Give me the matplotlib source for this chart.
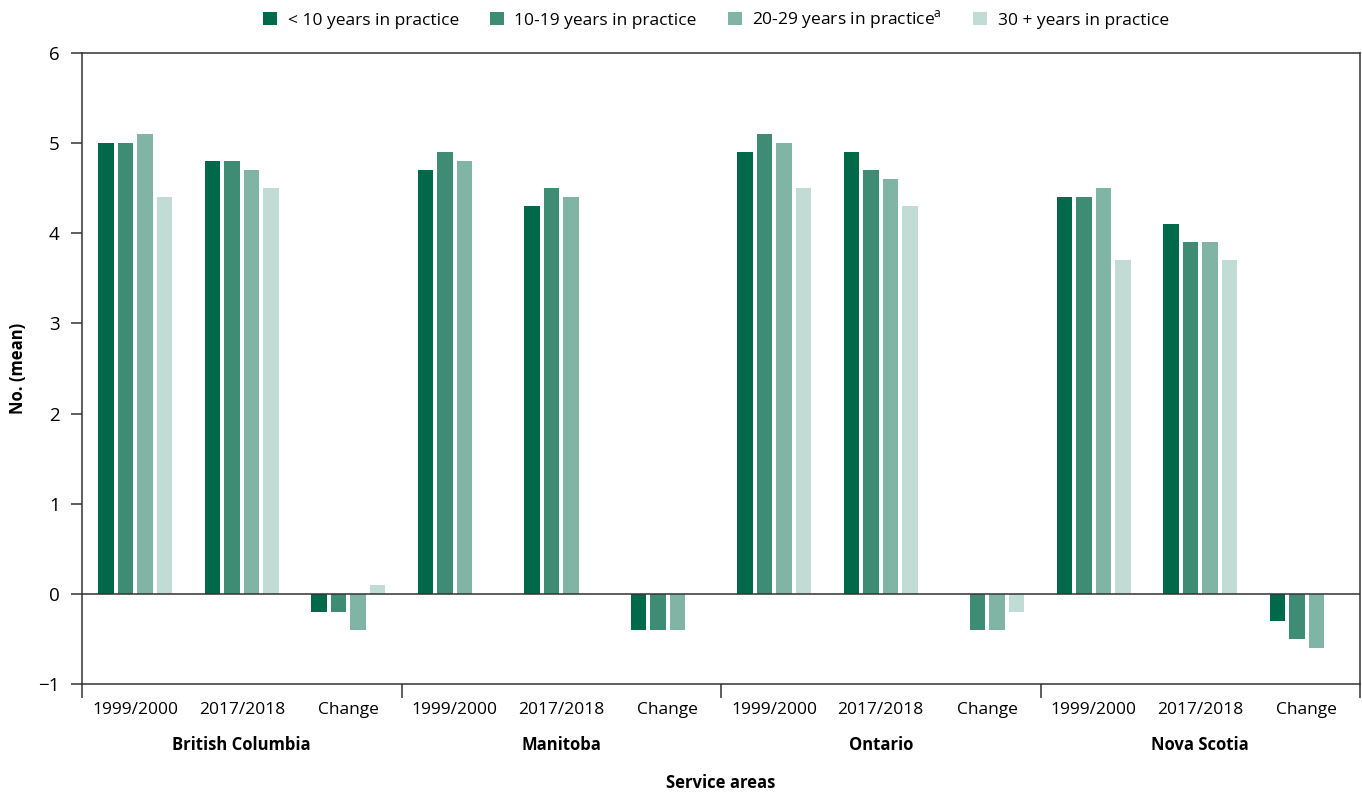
"""
Mean number of service areas by years in practice, four provinces.
"""
import numpy as np
import matplotlib
matplotlib.use("Agg")
import matplotlib.pyplot as plt
from matplotlib.transforms import blended_transform_factory
from matplotlib.ticker import FixedLocator

plt.rcParams['font.family'] = ['Open Sans', 'DejaVu Sans']
plt.rcParams['mathtext.fontset'] = 'custom'
plt.rcParams['mathtext.rm'] = 'Open Sans'

# categories along the x axis
provinces = ["British Columbia", "Manitoba", "Ontario", "Nova Scotia"]
periods = ["1999/2000", "2017/2018", "Change"]

# series: one list per experience band, 12 values (4 provinces x 3 periods)
# None = no bar shown
lt10 = [5.0, 4.8, -0.2, 4.7, 4.3, -0.4, 4.9, 4.9, None, 4.4, 4.1, -0.3]
y10_19 = [5.0, 4.8, -0.2, 4.9, 4.5, -0.4, 5.1, 4.7, -0.4, 4.4, 3.9, -0.5]
y20_29 = [5.1, 4.7, -0.4, 4.8, 4.4, -0.4, 5.0, 4.6, -0.4, 4.5, 3.9, -0.6]
y30p = [4.4, 4.5, 0.1, None, None, None, 4.5, 4.3, -0.2, 3.7, 3.7, None]

series_labels = ["< 10 years in practice", "10-19 years in practice",
                 "20-29 years in practice$^{\\mathrm{a}}$",
                 "30 + years in practice"]
colors = ["#00694a", "#3f8c75", "#80b5a5", "#c1dcd4"]

fig = plt.figure(figsize=(13.62, 7.95), dpi=100)
ax = fig.add_axes([82 / 1362, 1 - 684 / 795, 1278 / 1362, 631 / 795])

x = np.arange(len(provinces) * len(periods))
step = 0.183
width = 0.142
all_series = [lt10, y10_19, y20_29, y30p]
for i, (vals, col, lab) in enumerate(zip(all_series, colors, series_labels)):
    xs = [xi + (i - 1.5) * step for xi, v in zip(x, vals) if v is not None]
    vs = [v for v in vals if v is not None]
    ax.bar(xs, vs, width=width, color=col, label=lab, zorder=2)

ax.axhline(0, color="#333333", lw=1.1, zorder=3)

ax.set_xlim(-0.5, len(x) - 0.5)
ax.set_ylim(-1, 6)
ax.set_yticks(range(-1, 7))
ax.set_yticklabels(["\u22121"] + [str(v) for v in range(0, 7)])
ax.set_xticks(x)
ax.set_xticklabels(periods * len(provinces))
ax.tick_params(axis="x", which="major", length=0, pad=13, labelsize=12.5)
ax.xaxis.set_minor_locator(FixedLocator([-0.5, 2.5, 5.5, 8.5, 11.5]))
ax.tick_params(axis="x", which="minor", length=10, width=1.1,
               color="#333333", direction="out")
ax.tick_params(axis="y", length=8, width=1.1, color="#333333", pad=8,
               labelsize=13.5)
for s in ax.spines.values():
    s.set_color("#333333")
    s.set_linewidth(1.1)

trans = blended_transform_factory(ax.transData, ax.transAxes)
for k, prov in enumerate(provinces):
    ax.text(k * 3 + 1, -0.097, prov, transform=trans, ha="center",
            va="center", fontsize=12, fontweight="bold")

fig.text(721 / 1362, 1 - 783 / 795, "Service areas", ha="center",
         va="center", fontsize=12, fontweight="bold")
fig.text(18 / 1362, 1 - 368 / 795, "No. (mean)", rotation=90, ha="center",
         va="center", fontsize=12, fontweight="bold")

fig.legend(loc="center", bbox_to_anchor=(716 / 1362, 1 - 20 / 795),
           ncol=4, frameon=False, fontsize=12.5, handlelength=0.8,
           handleheight=0.8, handletextpad=0.6, columnspacing=1.8)

fig.savefig("out.png", dpi=100)
